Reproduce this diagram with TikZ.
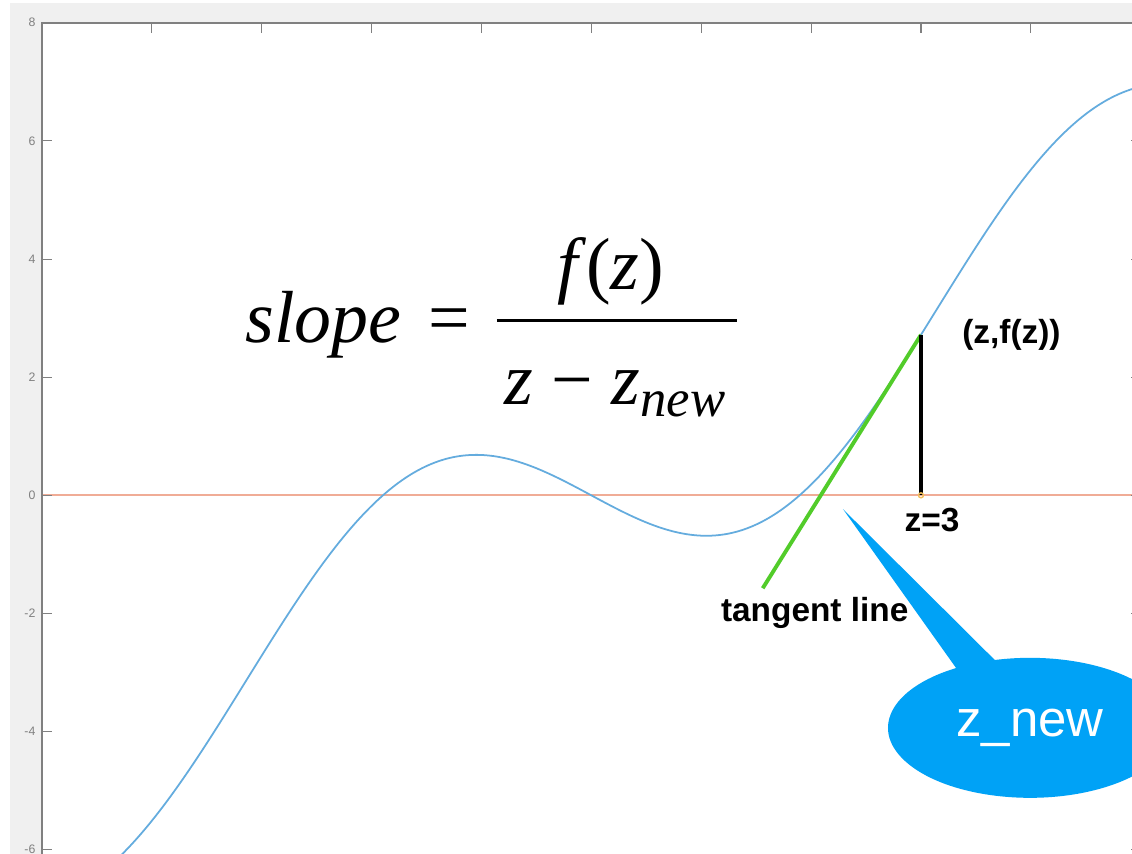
\documentclass[tikz,border=0pt]{standalone}
\usepackage{fontspec}
\setmainfont{Liberation Sans}
\newfontfamily\tms{Liberation Serif}
\usetikzlibrary{shapes.callouts, positioning}
\definecolor{curveblue}{RGB}{100,172,222}
\definecolor{zeroline}{RGB}{240,172,150}
\definecolor{tangreen}{RGB}{82,204,42}
\definecolor{callblue}{RGB}{0,162,246}
\definecolor{axgray}{RGB}{128,128,128}
\definecolor{bggray}{RGB}{240,240,240}
\definecolor{dotorange}{RGB}{245,192,90}
\begin{document}
\begin{tikzpicture}[x=2.198cm, y=1.1814cm, lbl/.style={inner sep=0pt,font=\bfseries\fontsize{19}{22}\selectfont}, fml/.style={anchor=base,inner sep=0pt,font=\tms\fontsize{42}{50}\selectfont}, tck/.style={axgray,line width=0.6pt}, ylab/.style={anchor=east,inner sep=0pt,text=axgray,font=\fontsize{7}{8}\selectfont}]
  \useasboundingbox (-5.380,-6.056) rectangle (4.920,8.385);
  \clip (-5.380,-6.056) rectangle (4.920,8.385);
  \fill[bggray] (-5.289,-6.2) rectangle (5.2,8.334);
  \fill[white] (-5,-6.2) rectangle (5,8);
  \draw[zeroline,line width=1.3pt] (-5,0) -- (5,0);
  \draw[axgray,line width=0.9pt] (-5,-6.2) -- (-5,8) -- (5,8) -- (5,-6.2);
  \foreach \x in {-4,...,4}{\draw[tck] (\x,8) -- ++(0,-0.2cm);}
  \foreach \y in {-6,-4,...,8}{\draw[tck] (-5,\y) -- ++(0.2cm,0); \draw[tck] (5,\y) -- ++(-0.2cm,0); \node[ylab] (yl\y) at ([xshift=-0.12cm]-5,\y) {\y};}
  \draw[curveblue,line width=1pt,domain=-4.6:5,samples=200,smooth] plot (\x,{\x-2*sin(\x r)});
  \node[fml,anchor=base west] (slp) at (-3.151,2.595) {\textit{slope}\hspace{0.12em} =};
  \coordinate (barl) at (-0.858,2.951);
  \coordinate (barr) at (1.326,2.951);
  \draw[line width=0.06cm] (barl) -- (barr);
  \node[fml] (num) at (0.175,3.477) {\textit{f}(\textit{z})};
  \node[fml] (den) at (0.215,1.532) {\textit{z} − \textit{z}\raisebox{-0.16em}{\fontsize{30}{31}\selectfont\itshape new}};
  \coordinate (pt) at (3,2.71776);
  \coordinate (z3) at (3,0);
  \coordinate (tl) at (1.56,{2.71776+2.97998*(1.56-3)});
  \coordinate (tip) at (2.29,-0.232);
  \draw[tangreen,line width=2.2pt] (tl) -- (pt);
  \draw[black,line width=2.4pt] (pt) -- (z3);
  \draw[dotorange,line width=0.8pt] (z3) circle (0.05cm);
  \node[lbl,right=0.82cm of pt] (ptl) {(z,f(z))};
  \node[lbl,below=0.26cm of z3,xshift=0.22cm] (z3l) {z=3};
  \node[lbl,below=0.18cm of tl,xshift=1.04cm] (tll) {tangent line};
  \node[ellipse callout,fill=callblue,text=white,minimum width=5.68cm,minimum height=2.8cm,callout absolute pointer={(tip)},callout pointer arc=17,font=\fontsize{29}{34}\selectfont] (zn) at (3.992,-3.936) {z\_new};
\end{tikzpicture}
\end{document}
